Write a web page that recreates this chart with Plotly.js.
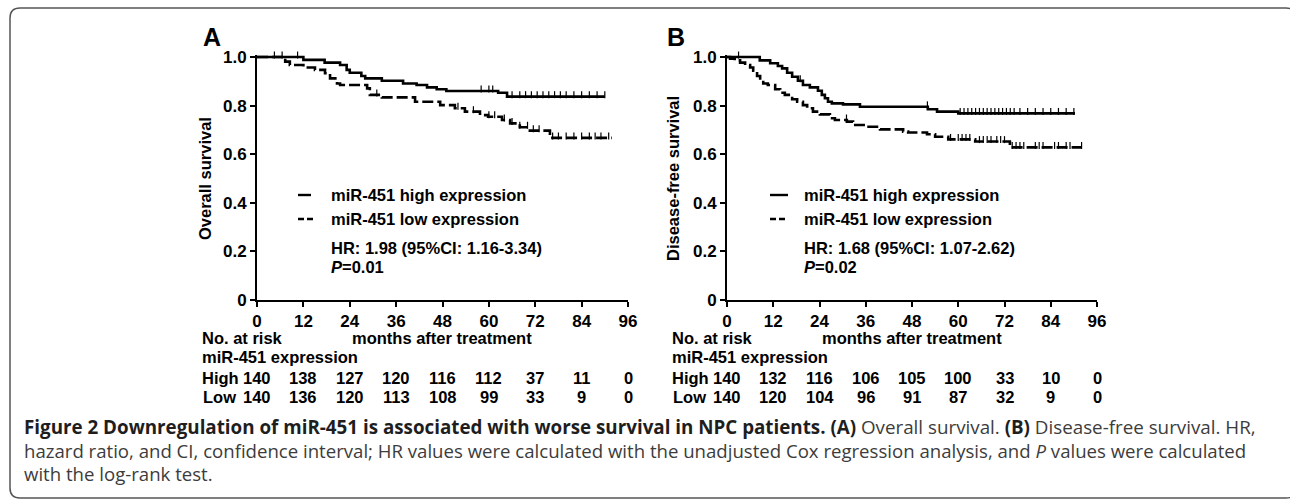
<!DOCTYPE html>
<html>
<head>
<meta charset="utf-8">
<script src="https://cdn.plot.ly/plotly-3.0.1.min.js"></script>
<style>
html,body{margin:0;padding:0;background:#fff;}
#chart{width:1290px;height:499px;}
</style>
</head>
<body>
<div id="chart"></div>
<script>
// ---------------- DATA ----------------
// Panel A: Overall survival (Kaplan-Meier step points: time in months, survival)
var timesHighA = [0, 12, 17.5, 21.5, 23.2, 24, 27, 28, 32.3, 37.8, 41.3, 44, 46.5, 49, 62.4, 64.7, 90];
var survHighA  = [1, 0.988, 0.977, 0.967, 0.947, 0.935, 0.922, 0.912, 0.902, 0.891, 0.885, 0.875, 0.867, 0.86, 0.853, 0.837, 0.837];
var timesLowA  = [0, 7.3, 8.5, 12, 15, 17.6, 18.9, 20.7, 21.5, 28.5, 29.2, 32.3, 40.9, 47.4, 51.2, 53.8, 57.7, 59.8, 63.4, 65.5, 68, 70.6, 75.8, 91.8];
var survLowA   = [1, 0.981, 0.967, 0.957, 0.947, 0.933, 0.912, 0.891, 0.885, 0.871, 0.844, 0.834, 0.816, 0.802, 0.789, 0.775, 0.761, 0.754, 0.741, 0.727, 0.711, 0.697, 0.667, 0.667];
var censorHighA = [4.5, 6.5, 10.5, 58, 60, 61, 66, 68, 69.5, 71, 72.5, 74, 75.5, 77, 78.5, 80, 82, 84, 86, 88, 90];
var censorLowA  = [31, 52, 56, 60, 61.5, 64, 66, 68, 70, 71.5, 73, 76.5, 78, 80, 82, 84, 86, 87.5, 89, 91];

// Panel B: Disease-free survival
var timesHighB = [0, 8.5, 11.2, 13.2, 14.3, 15.6, 16.9, 18.4, 19.7, 21.5, 23.6, 24.6, 25.4, 26.2, 27.2, 30.1, 34.5, 52.1, 54.5, 60, 90.3];
var survHighB  = [1, 0.986, 0.974, 0.963, 0.953, 0.935, 0.919, 0.902, 0.885, 0.875, 0.861, 0.844, 0.83, 0.816, 0.809, 0.805, 0.795, 0.785, 0.775, 0.768, 0.768];
var timesLowB  = [0, 0.8, 2, 3.4, 4.7, 6, 6.8, 7.8, 8.6, 9.4, 10.6, 12.5, 13.8, 15, 16.9, 18.2, 19.7, 20.8, 22.3, 24.1, 26.7, 28, 31.1, 32.7, 36.3, 39.7, 45.7, 47, 51.9, 54, 57.4, 64.4, 73.4, 92];
var survLowB   = [1, 0.993, 0.986, 0.977, 0.967, 0.957, 0.944, 0.922, 0.905, 0.891, 0.885, 0.867, 0.853, 0.844, 0.826, 0.816, 0.802, 0.789, 0.775, 0.764, 0.748, 0.741, 0.734, 0.72, 0.713, 0.702, 0.693, 0.689, 0.682, 0.672, 0.661, 0.652, 0.628, 0.628];
var censorHighB = [3, 19, 52, 60.5, 61.5, 62.5, 63.5, 64.5, 65.5, 66.5, 67.5, 68.5, 69.5, 70.5, 71.5, 72.5, 73.5, 74.5, 76, 78, 80, 82, 84, 86, 88, 90];
var censorLowB  = [31, 58, 60, 61, 62, 63, 65.5, 66.5, 67.5, 68.5, 70, 71, 72, 74, 75, 76, 77, 80, 81, 82, 85, 86, 88, 89, 92];

// Axis ticks
var xTickVals = [0, 12, 24, 36, 48, 60, 72, 84, 96];
var yTickVals = [0, 0.2, 0.4, 0.6, 0.8, 1.0];
var yTickText = ['0', '0.2', '0.4', '0.6', '0.8', '1.0'];

// Numbers at risk
var riskTimes  = [0, 12, 24, 36, 48, 60, 72, 84, 96];
var riskHighA  = [140, 138, 127, 120, 116, 112, 37, 11, 0];
var riskLowA   = [140, 136, 120, 113, 108, 99, 33, 9, 0];
var riskHighB  = [140, 132, 116, 106, 105, 100, 33, 10, 0];
var riskLowB   = [140, 120, 104, 96, 91, 87, 32, 9, 0];

// Texts
var legendHigh = 'miR-451 high expression';
var legendLow  = 'miR-451 low expression';
var hrA = 'HR: 1.98 (95%CI: 1.16-3.34)', pA = '<i>P</i>=0.01';
var hrB = 'HR: 1.68 (95%CI: 1.07-2.62)', pB = '<i>P</i>=0.02';
var captionLines = [
  '<span style="color:#1e1e1e"><b>Figure 2 Downregulation of miR-451 is associated with worse survival in NPC patients. (A)</b></span> Overall survival. <span style="color:#1e1e1e"><b>(B)</b></span> Disease-free survival. HR,',
  'hazard ratio, and CI, confidence interval; HR values were calculated with the unadjusted Cox regression analysis, and <i>P</i> values were calculated',
  'with the log-rank test.'
];

// ---------------- HELPERS ----------------
var W = 1290, H = 499;
function fx(p){ return p / W; }
function fy(p){ return 1 - p / H; }
function stepAt(times, surv, t){
  var v = surv[0];
  for (var i = 0; i < times.length; i++){ if (times[i] <= t) v = surv[i]; }
  return v;
}
var FONT = 'Liberation Sans, Arial, Helvetica, sans-serif';
var CAPFONT = 'Open Sans, Noto Sans, sans-serif';

function curve(times, surv, xa, ya, dashed){
  return {x: times, y: surv, xaxis: xa, yaxis: ya, type: 'scatter', mode: 'lines',
          line: {shape: 'hv', color: '#000', width: 2.6, dash: dashed ? '11px,4px' : 'solid'},
          hoverinfo: 'skip', showlegend: false};
}
function censor(cts, times, surv, xa, ya){
  return {x: cts, y: cts.map(function(t){ return stepAt(times, surv, t) + 0.008; }),
          xaxis: xa, yaxis: ya, type: 'scatter', mode: 'markers',
          marker: {symbol: 'line-ns-open', size: 5, color: '#000', line: {color: '#000', width: 1.2}},
          hoverinfo: 'skip', showlegend: false, cliponaxis: false};
}

var traces = [
  curve(timesHighA, survHighA, 'x', 'y', false),
  curve(timesLowA, survLowA, 'x', 'y', true),
  censor(censorHighA, timesHighA, survHighA, 'x', 'y'),
  censor(censorLowA, timesLowA, survLowA, 'x', 'y'),
  curve(timesHighB, survHighB, 'x2', 'y2', false),
  curve(timesLowB, survLowB, 'x2', 'y2', true),
  censor(censorHighB, timesHighB, survHighB, 'x2', 'y2'),
  censor(censorLowB, timesLowB, survLowB, 'x2', 'y2')
];

var yTop = 57 - 0.01 * 243;
function xAxis(d0, d1, anchor){
  return {domain: [fx(d0), fx(d1)], range: [0, 96], anchor: anchor,
          tickmode: 'array', tickvals: xTickVals, ticktext: xTickVals.map(String),
          ticks: 'outside', ticklen: 5, tickwidth: 2, tickcolor: '#000',
          showline: true, linewidth: 2, linecolor: '#000', showgrid: false, zeroline: false,
          tickfont: {family: FONT, size: 17, color: '#000', weight: 'bold'}, fixedrange: true};
}
function yAxis(anchor){
  return {domain: [fy(300), fy(yTop)], range: [0, 1.01], anchor: anchor,
          tickmode: 'array', tickvals: yTickVals, ticktext: yTickText,
          ticks: 'outside', ticklen: 5, tickwidth: 2, tickcolor: '#000',
          showline: true, linewidth: 2, linecolor: '#000', showgrid: false, zeroline: false,
          tickfont: {family: FONT, size: 17, color: '#000', weight: 'bold'}, fixedrange: true};
}

var ann = [];
function txt(text, x, y, opts){
  opts = opts || {};
  ann.push({text: text, xref: opts.xref || 'paper', yref: 'paper',
            x: opts.xref ? x : fx(x), y: fy(y), xanchor: opts.xanchor || 'left', yanchor: 'middle',
            showarrow: false, textangle: opts.angle || 0,
            font: {family: opts.family || FONT, size: opts.size || 16.5, color: opts.color || '#000',
                   weight: opts.weight || 'bold'}});
}

// Panel labels
txt('A', 212, 37, {xanchor: 'center', size: 25});
txt('B', 676, 37, {xanchor: 'center', size: 25});
// Y titles
txt('Overall survival', 205, 179, {xanchor: 'center', angle: -90});
txt('Disease-free survival', 673, 179, {xanchor: 'center', angle: -90});
// X titles
txt('months after treatment', 442, 338, {xanchor: 'center'});
txt('months after treatment', 912, 338, {xanchor: 'center'});

function panelText(x0, lx, hr, p){
  txt(legendHigh, lx, 195);
  txt(legendLow, lx, 219);
  txt(hr, lx, 248);
  txt(p, lx, 267);
  txt('No. at risk', x0, 338);
  txt('miR-451 expression', x0, 357);
  txt('High', x0, 378);
  txt('Low', x0 + 1, 397);
}
panelText(200, 329, hrA, pA);
panelText(670, 802, hrB, pB);

function riskRow(times, vals, xref, y){
  for (var i = 0; i < times.length; i++){
    txt(String(vals[i]), times[i], y, {xref: xref, xanchor: 'center'});
  }
}
riskRow(riskTimes, riskHighA, 'x', 378);
riskRow(riskTimes, riskLowA, 'x', 397);
riskRow(riskTimes, riskHighB, 'x2', 378);
riskRow(riskTimes, riskLowB, 'x2', 397);

// Caption
txt(captionLines[0], 22, 427, {family: CAPFONT, size: 18.8, color: '#3c3c3c', weight: 'normal'});
txt(captionLines[1], 22, 450, {family: CAPFONT, size: 18.6, color: '#3c3c3c', weight: 'normal'});
txt(captionLines[2], 22, 473, {family: CAPFONT, size: 18.6, color: '#3c3c3c', weight: 'normal'});

// Shapes: frame and legend samples
var L = 10, T = 8, R = 1296, B = 498, r = 10;
var framePath = 'M ' + fx(L + r) + ',' + fy(T) +
  ' L ' + fx(R - r) + ',' + fy(T) +
  ' Q ' + fx(R) + ',' + fy(T) + ' ' + fx(R) + ',' + fy(T + r) +
  ' L ' + fx(R) + ',' + fy(B - r) +
  ' Q ' + fx(R) + ',' + fy(B) + ' ' + fx(R - r) + ',' + fy(B) +
  ' L ' + fx(L + r) + ',' + fy(B) +
  ' Q ' + fx(L) + ',' + fy(B) + ' ' + fx(L) + ',' + fy(B - r) +
  ' L ' + fx(L) + ',' + fy(T + r) +
  ' Q ' + fx(L) + ',' + fy(T) + ' ' + fx(L + r) + ',' + fy(T) + ' Z';

var shapes = [
  {type: 'path', xref: 'paper', yref: 'paper', path: framePath, line: {color: '#555', width: 1.5}, fillcolor: 'rgba(0,0,0,0)', layer: 'below'}
];
function legendSample(x0, x1, y, dashed){
  shapes.push({type: 'line', xref: 'paper', yref: 'paper', x0: fx(x0), x1: fx(x1), y0: fy(y), y1: fy(y),
               line: {color: '#000', width: 2.4, dash: dashed ? '6px,3px' : 'solid'}});
}
legendSample(298, 311, 195, false);
legendSample(298, 315, 219, true);
legendSample(770, 788, 195, false);
legendSample(770, 788, 219, true);

var layout = {
  width: W, height: H,
  margin: {l: 0, r: 0, t: 0, b: 0, pad: 0},
  paper_bgcolor: '#fff', plot_bgcolor: 'rgba(0,0,0,0)',
  showlegend: false,
  xaxis: xAxis(257, 628, 'y'),
  yaxis: yAxis('x'),
  xaxis2: xAxis(727, 1097, 'y2'),
  yaxis2: yAxis('x2'),
  annotations: ann,
  shapes: shapes
};

Plotly.newPlot('chart', traces, layout, {staticPlot: true, displayModeBar: false});
</script>
</body>
</html>
